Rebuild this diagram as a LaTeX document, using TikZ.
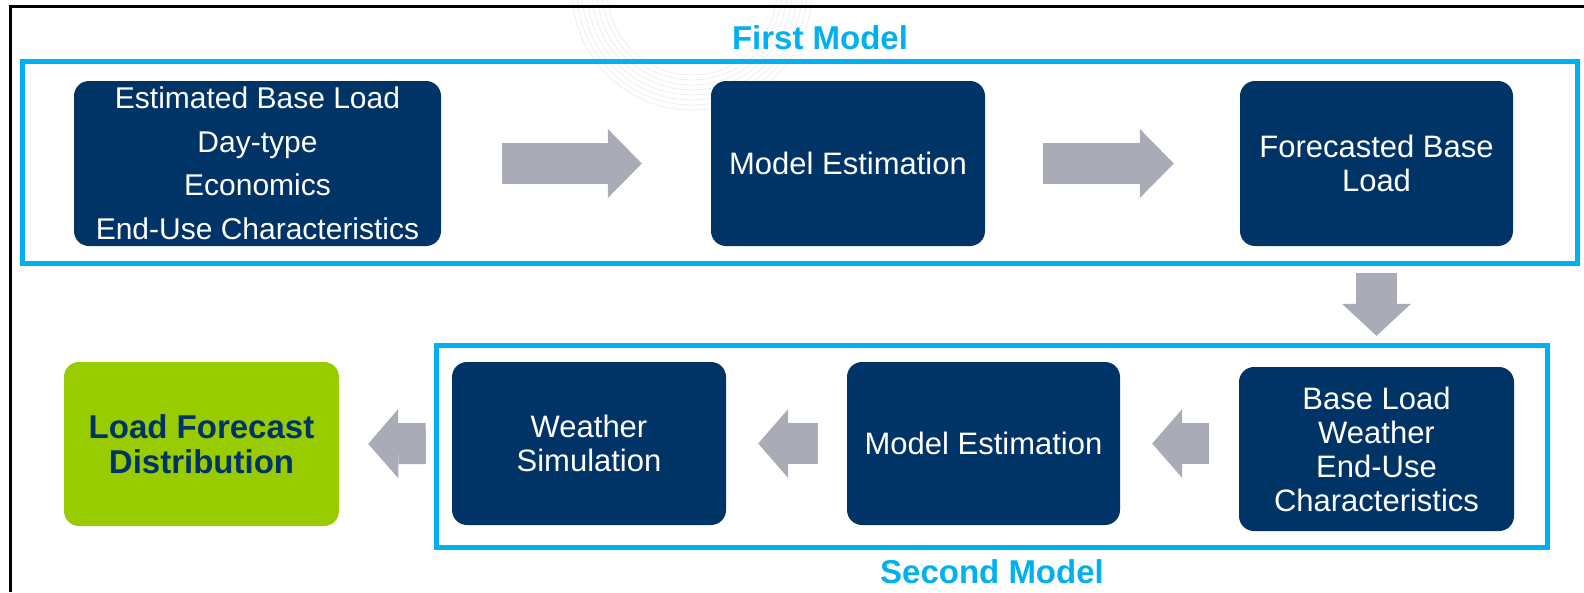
\documentclass[tikz,border=0pt]{standalone}
\usepackage{fontspec}
\setmainfont{Liberation Sans}
\usetikzlibrary{arrows.meta,calc}
\definecolor{boxnavy}{RGB}{0,51,102}
\definecolor{framecyan}{RGB}{0,176,240}
\definecolor{arrowgrey}{RGB}{169,171,182}
\definecolor{resgreen}{RGB}{153,204,0}
\tikzset{
  box/.style ={fill=boxnavy, rounded corners=15pt, inner sep=0pt, align=center, text=white, font=\fontsize{31}{34}\selectfont},
  res/.style ={fill=resgreen, rounded corners=15pt, inner sep=0pt, align=center, text=boxnavy, font=\fontsize{33}{35.5}\selectfont\bfseries},
  frm/.style ={draw=framecyan, line width=5pt},
  ttl/.style ={text=framecyan, font=\fontsize{33}{36}\selectfont\bfseries, inner sep=0pt},
  fat/.style ={draw=arrowgrey, line width=41pt, -{Triangle[length=#1,width=69pt,line width=0pt]}},
}

\begin{document}
\begin{tikzpicture}[x=1pt,y=-1pt]
  \useasboundingbox (0,0) rectangle (1584,592);
  \foreach \r in {85,90,...,120}
    \draw[black!7,line width=0.8pt] (692+\r,-10) arc[start angle=0,end angle=180,radius=\r];
  \draw[line width=3pt] (10,592) -- (10,6) -- (1584,6);
  \draw[frm] (22,61) rectangle (1577,263);
  \draw[frm] (436,345) rectangle (1547,547);
  \node[ttl] (t1) at (820,38) {First Model};
  \node[ttl] (t2) at (992,572) {Second Model};
  \node[box, minimum width=367pt, minimum height=165pt, font=\fontsize{30}{43.5}\selectfont] (in1) at (257.5,163.5) {Estimated Base Load\\Day-type\\Economics\\End-Use Characteristics};
  \node[box, minimum width=274pt, minimum height=165pt] (est1) at (848,163.5) {Model Estimation};
  \node[box, minimum width=273pt, minimum height=165pt] (fc) at (1376.5,163.5) {Forecasted Base\\Load};
  \node[box, minimum width=275pt, minimum height=164pt] (in2) at (1376.5,449) {Base Load\\Weather\\End-Use\\Characteristics};
  \node[box, minimum width=273pt, minimum height=163pt] (est2) at (983.5,443.5) {Model Estimation};
  \node[box, minimum width=274pt, minimum height=163pt] (sim) at (589,443.5) {Weather\\Simulation};
  \node[res, minimum width=275pt, minimum height=164pt] (dist) at (201.5,444) {Load Forecast\\Distribution};
  \draw[fat=34pt, shorten <=61pt, shorten >=69pt] (in1.east) -- (est1.west);
  \draw[fat=34pt, shorten <=58pt, shorten >=66pt] (est1.east) -- (fc.west);
  \draw[fat=32pt, shorten <=27pt, shorten >=31pt] (fc.south) -- (in2.north);
  \draw[fat=30pt, shorten <=30pt, shorten >=32pt] (est2.east -| in2.west) -- (est2.east);
  \draw[fat=30pt, shorten <=29pt, shorten >=32pt] (est2.west) -- (sim.east);
  \draw[fat=30pt, shorten <=26pt, shorten >=29pt] (sim.west) -- (dist.east);
\end{tikzpicture}
\end{document}
